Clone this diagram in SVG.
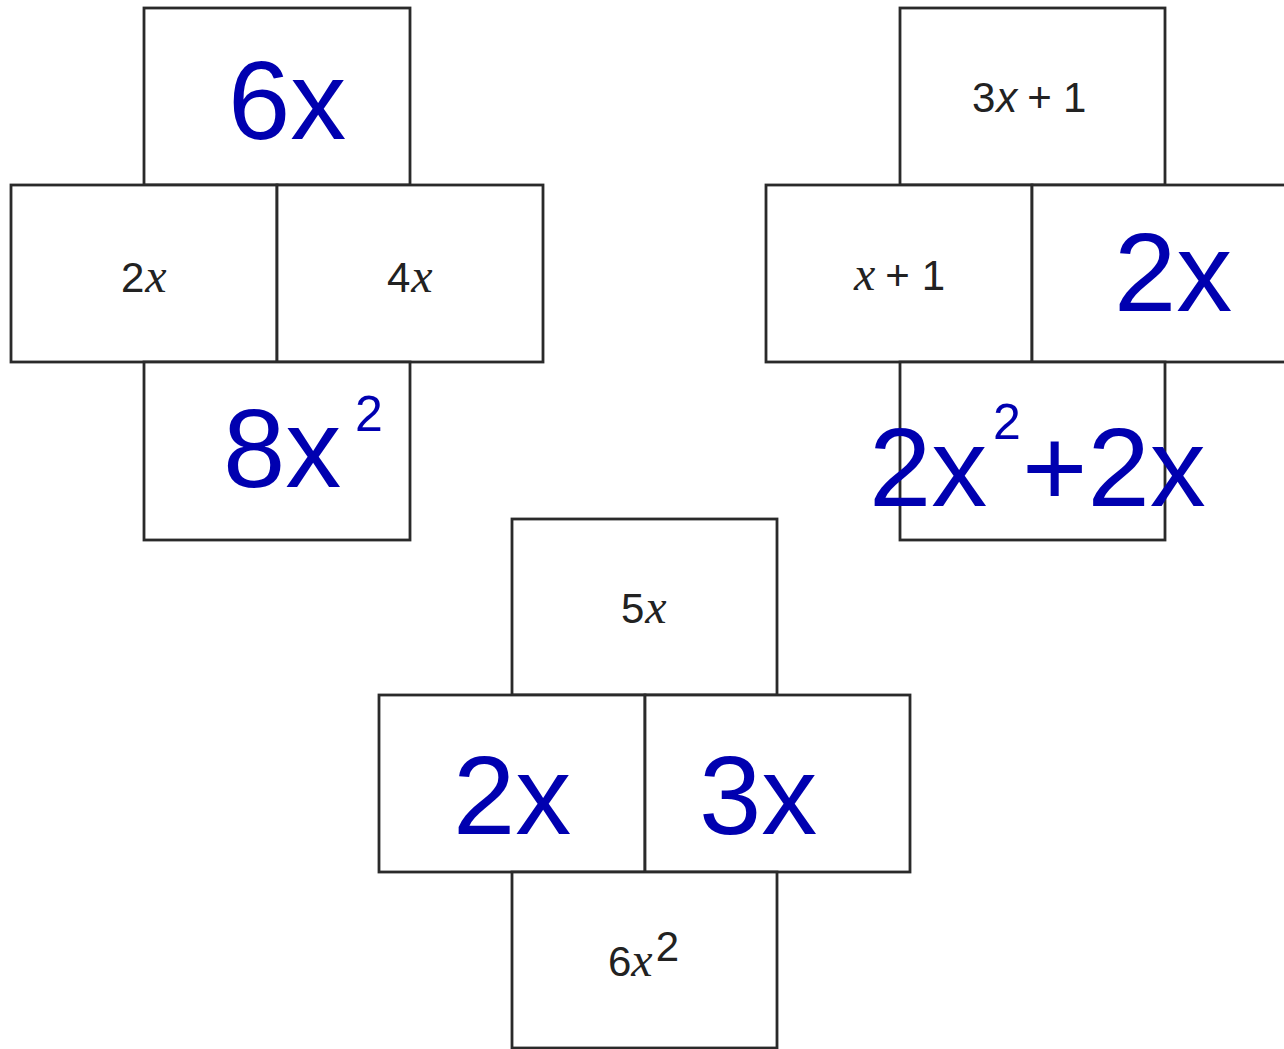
<svg xmlns="http://www.w3.org/2000/svg" width="1284" height="1049" viewBox="0 0 1284 1049">
<style>
.cell{fill:#fff;stroke:#2a2a2a;stroke-width:2.8}
.k{font-family:"Liberation Sans",Arial,sans-serif;font-size:42px;fill:#222}
.ki{font-family:"Liberation Serif","Times New Roman",serif;font-style:italic;font-size:48px;fill:#222}
.ko{font-family:"Liberation Sans",Arial,sans-serif;font-style:italic;font-size:42px;fill:#222}
.b{font-family:"Liberation Sans",Arial,sans-serif;font-size:112px;fill:#0000b0}
.bs{font-family:"Liberation Sans",Arial,sans-serif;font-size:50px;fill:#0000b0}
</style>
<rect width="1284" height="1049" fill="#fff"/>
<g id="connectors"></g>
<g id="puzzle-left">
  <g id="left-top"><rect class="cell" x="144" y="8" width="266" height="177"/><text class="b" x="228" y="139">6x</text></g>
  <g id="left-mid-l"><rect class="cell" x="11" y="185" width="266" height="177"/><text x="121" y="292"><tspan class="k">2</tspan><tspan class="ki" dx="1">x</tspan></text></g>
  <g id="left-mid-r"><rect class="cell" x="277" y="185" width="266" height="177"/><text x="387" y="292"><tspan class="k">4</tspan><tspan class="ki" dx="1">x</tspan></text></g>
  <g id="left-bottom"><rect class="cell" x="144" y="362" width="266" height="178"/><text class="b" x="223" y="487">8x</text><text class="bs" x="355" y="431">2</text></g>
</g>
<g id="puzzle-right">
  <g id="right-top"><rect class="cell" x="900" y="8" width="265" height="177"/><text x="972" y="112"><tspan class="k">3</tspan><tspan class="ko" dx="1">x</tspan><tspan class="k" dx="10">+</tspan><tspan class="k" dx="11">1</tspan></text></g>
  <g id="right-mid-l"><rect class="cell" x="766" y="185" width="266" height="177"/><text x="854" y="290"><tspan class="ki">x</tspan><tspan class="k" dx="10">+</tspan><tspan class="k" dx="12">1</tspan></text></g>
  <g id="right-mid-r"><rect class="cell" x="1032" y="185" width="266" height="177"/><text class="b" x="1114" y="311">2x</text></g>
  <g id="right-bottom"><rect class="cell" x="900" y="362" width="265" height="178"/><text class="b" x="869" y="506">2x</text><text class="bs" x="993" y="439">2</text><text class="b" x="1022" y="506">+2x</text></g>
</g>
<g id="puzzle-bottom">
  <g id="bottom-top"><rect class="cell" x="512" y="519" width="265" height="176"/><text x="621" y="623"><tspan class="k">5</tspan><tspan class="ki" dx="1">x</tspan></text></g>
  <g id="bottom-mid-l"><rect class="cell" x="379" y="695" width="266" height="177"/><text class="b" x="453" y="834">2x</text></g>
  <g id="bottom-mid-r"><rect class="cell" x="645" y="695" width="265" height="177"/><text class="b" x="699" y="834">3x</text></g>
  <g id="bottom-bottom"><rect class="cell" x="512" y="872" width="265" height="176"/><text x="608" y="976"><tspan class="k">6</tspan><tspan class="ki">x</tspan><tspan class="k" font-size="26" dx="3" dy="-15">2</tspan></text></g>
</g>
</svg>
